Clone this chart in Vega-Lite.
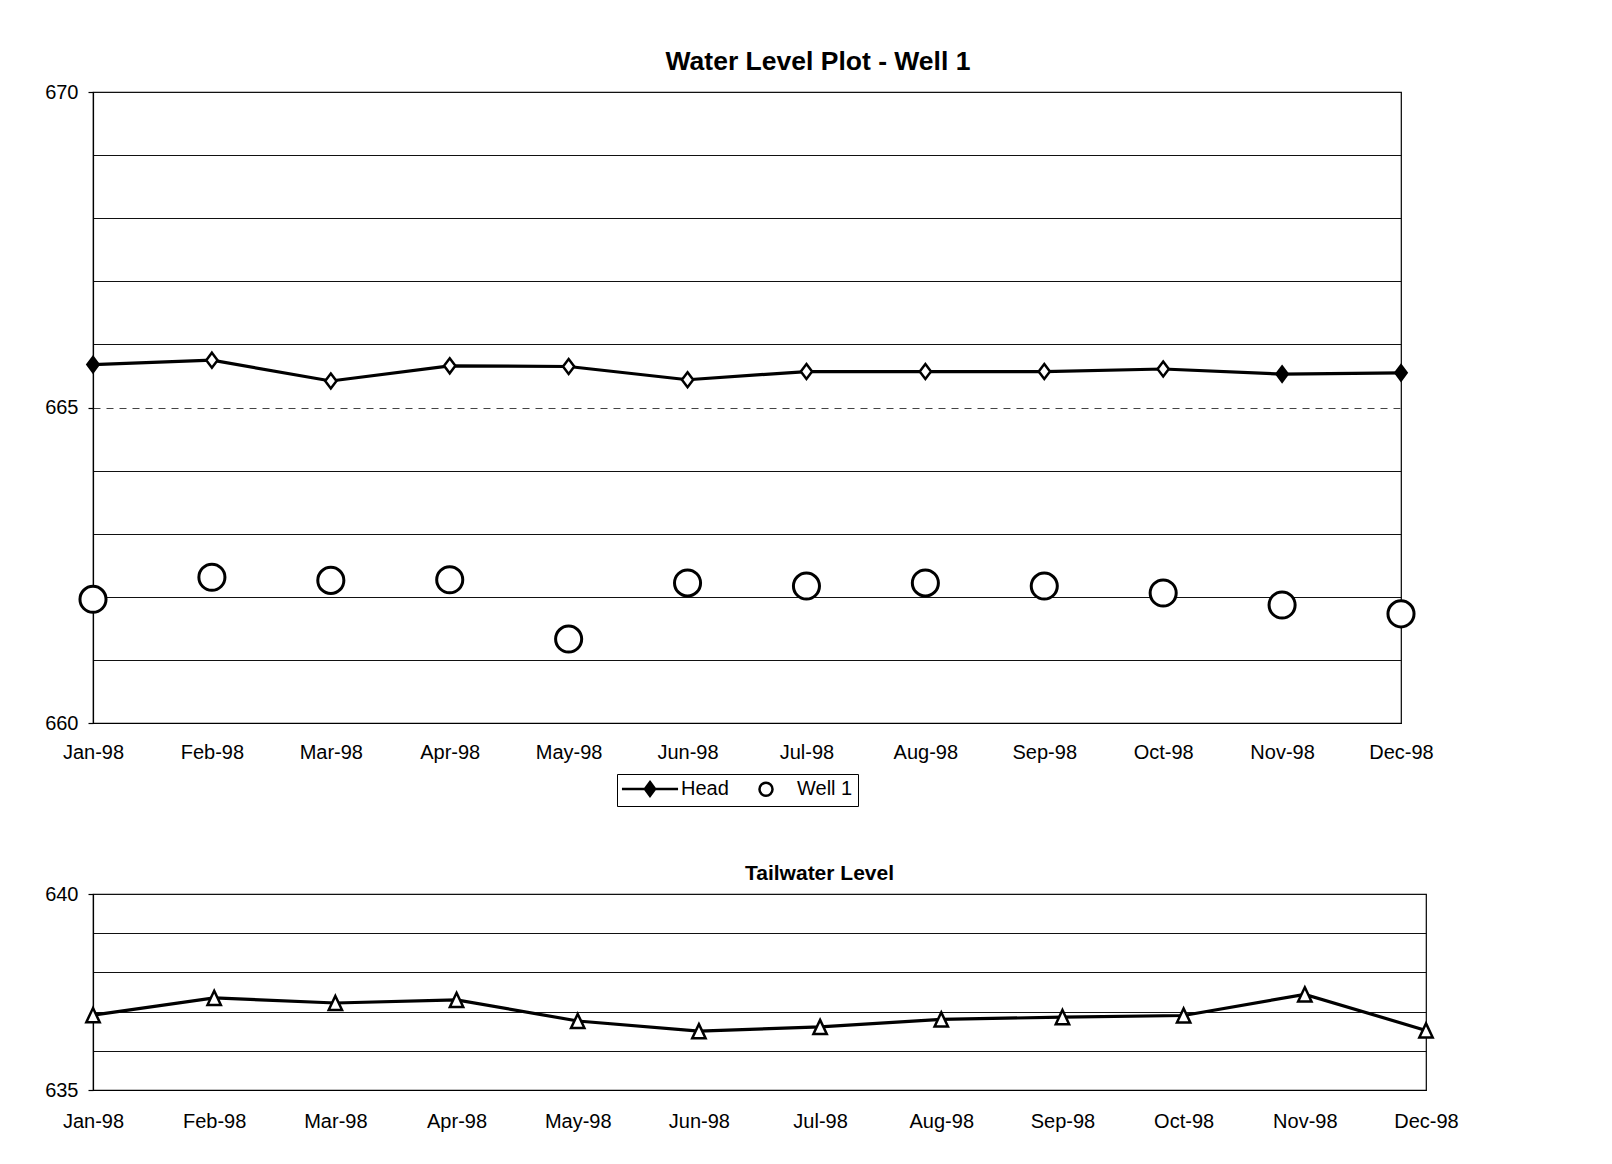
{
  "$schema": "https://vega.github.io/schema/vega-lite/v6.json",
  "background": "white",
  "padding": {"left": 44, "top": 47, "right": 0, "bottom": 0},
  "spacing": 99,
  "config": {
    "font": "Liberation Sans",
    "view": {"stroke": "black", "strokeWidth": 1.2},
    "axis": {"labelFont": "Liberation Sans", "labelFontSize": 20, "labelColor": "black", "domainColor": "black", "domainWidth": 1.2, "tickColor": "black", "tickWidth": 1.2, "gridColor": "#111111", "gridOpacity": 1, "gridWidth": 1.2}
  },
  "datasets": {
    "well": [
      {"month": "Jan-98", "series": "Head", "value": 665.68},
      {"month": "Feb-98", "series": "Head", "value": 665.75},
      {"month": "Mar-98", "series": "Head", "value": 665.42},
      {"month": "Apr-98", "series": "Head", "value": 665.66},
      {"month": "May-98", "series": "Head", "value": 665.65},
      {"month": "Jun-98", "series": "Head", "value": 665.44},
      {"month": "Jul-98", "series": "Head", "value": 665.57},
      {"month": "Aug-98", "series": "Head", "value": 665.57},
      {"month": "Sep-98", "series": "Head", "value": 665.57},
      {"month": "Oct-98", "series": "Head", "value": 665.61},
      {"month": "Nov-98", "series": "Head", "value": 665.53},
      {"month": "Dec-98", "series": "Head", "value": 665.55},
      {"month": "Jan-98", "series": "Well 1", "value": 661.96},
      {"month": "Feb-98", "series": "Well 1", "value": 662.31},
      {"month": "Mar-98", "series": "Well 1", "value": 662.26},
      {"month": "Apr-98", "series": "Well 1", "value": 662.27},
      {"month": "May-98", "series": "Well 1", "value": 661.33},
      {"month": "Jun-98", "series": "Well 1", "value": 662.22},
      {"month": "Jul-98", "series": "Well 1", "value": 662.17},
      {"month": "Aug-98", "series": "Well 1", "value": 662.22},
      {"month": "Sep-98", "series": "Well 1", "value": 662.17},
      {"month": "Oct-98", "series": "Well 1", "value": 662.06},
      {"month": "Nov-98", "series": "Well 1", "value": 661.87},
      {"month": "Dec-98", "series": "Well 1", "value": 661.73}
    ],
    "tail": [
      {"month": "Jan-98", "level": 636.91},
      {"month": "Feb-98", "level": 637.35},
      {"month": "Mar-98", "level": 637.22},
      {"month": "Apr-98", "level": 637.30},
      {"month": "May-98", "level": 636.76},
      {"month": "Jun-98", "level": 636.50},
      {"month": "Jul-98", "level": 636.61},
      {"month": "Aug-98", "level": 636.80},
      {"month": "Sep-98", "level": 636.86},
      {"month": "Oct-98", "level": 636.90},
      {"month": "Nov-98", "level": 637.44},
      {"month": "Dec-98", "level": 636.52}
    ]
  },
  "vconcat": [
    {
      "width": 1308,
      "height": 631,
      "title": {"text": "Water Level Plot - Well 1", "fontSize": 26.5, "fontWeight": "bold", "font": "Liberation Sans", "color": "black", "frame": "group", "anchor": "middle", "dx": 71, "offset": 7},
      "data": {"name": "well"},
      "encoding": {
        "x": {"field": "month", "type": "ordinal", "scale": {"type": "point", "padding": 0, "domain": ["Jan-98","Feb-98","Mar-98","Apr-98","May-98","Jun-98","Jul-98","Aug-98","Sep-98","Oct-98","Nov-98","Dec-98"]}, "axis": {"title": null, "labelAngle": 0, "ticks": false, "labelPadding": 19, "grid": false}},
        "y": {"field": "value", "type": "quantitative", "scale": {"domain": [660, 670], "nice": false, "zero": false}, "axis": {"title": null, "values": [660,661,662,663,664,665,666,667,668,669,670], "labelExpr": "datum.value % 5 === 0 ? datum.label : ''", "tickSize": 5, "labelPadding": 10, "tickOpacity": {"condition": {"test": "datum.value % 5 !== 0", "value": 0}, "value": 1}, "gridDash": {"condition": {"test": "datum.value === 665", "value": [7, 6]}, "value": []}, "gridColor": {"condition": {"test": "datum.value === 665", "value": "#444444"}, "value": "#111111"}}}
      },
      "layer": [
        {"transform": [{"filter": "datum.series === 'Head'"}], "mark": {"type": "line", "color": "black", "strokeWidth": 3.2}},
        {"transform": [{"filter": "datum.series === 'Head'"}], "mark": {"type": "point", "shape": "M0,-1L0.75,0L0,1L-0.75,0Z", "size": 225, "filled": true, "stroke": "black", "strokeWidth": 2.5, "opacity": 1},
          "encoding": {"fill": {"condition": {"test": "indexof(['Jan-98','Nov-98','Dec-98'], datum.month) >= 0", "value": "black"}, "value": "white"}}},
        {"transform": [{"filter": "datum.series === 'Well 1'"}], "mark": {"type": "point", "shape": "circle", "size": 680, "filled": true, "fill": "white", "stroke": "black", "strokeWidth": 3, "opacity": 1}},
        {"mark": {"type": "point", "opacity": 0, "stroke": "black"},
          "encoding": {
            "shape": {"field": "series", "type": "nominal", "scale": {"domain": ["Head", "Well 1"], "range": ["M-3.3,0L3.3,0M0,-0.82L0.6,0L0,0.82L-0.6,0ZM0,-0.45L0.32,0L0,0.45L-0.32,0ZM0,-0.6L0,0.6", "circle"]},
              "legend": {"title": null, "orient": "none", "legendX": 524, "legendY": 682, "direction": "horizontal", "strokeColor": "black", "padding": 5, "labelFontSize": 20, "labelFont": "Liberation Sans", "labelColor": "black", "labelOffset": 21, "symbolOffset": 18, "columnPadding": 9, "symbolStrokeColor": "black", "symbolStrokeWidth": 2.5, "symbolOpacity": 1}},
            "size": {"field": "series", "type": "ordinal", "scale": {"domain": ["Head", "Well 1"], "range": [289, 170]}}
          }}
      ]
    },
    {
      "width": 1333,
      "height": 196,
      "title": {"text": "Tailwater Level", "fontSize": 21, "fontWeight": "bold", "font": "Liberation Sans", "color": "black", "frame": "group", "anchor": "middle", "dx": 60, "offset": 0},
      "data": {"name": "tail"},
      "encoding": {
        "x": {"field": "month", "type": "ordinal", "scale": {"type": "point", "padding": 0, "domain": ["Jan-98","Feb-98","Mar-98","Apr-98","May-98","Jun-98","Jul-98","Aug-98","Sep-98","Oct-98","Nov-98","Dec-98"]}, "axis": {"title": null, "labelAngle": 0, "ticks": false, "labelPadding": 21, "grid": false}},
        "y": {"field": "level", "type": "quantitative", "scale": {"domain": [635, 640], "nice": false, "zero": false}, "axis": {"title": null, "values": [635,636,637,638,639,640], "labelExpr": "datum.value % 5 === 0 ? datum.label : ''", "tickSize": 5, "labelPadding": 10, "tickOpacity": {"condition": {"test": "datum.value % 5 !== 0", "value": 0}, "value": 1}}}
      },
      "layer": [
        {"mark": {"type": "line", "color": "black", "strokeWidth": 3.2}},
        {"mark": {"type": "point", "shape": "M0,-0.95L0.9,0.95L-0.9,0.95Z", "size": 220, "filled": true, "fill": "white", "stroke": "black", "strokeWidth": 2.5, "opacity": 1}}
      ]
    }
  ]
}
